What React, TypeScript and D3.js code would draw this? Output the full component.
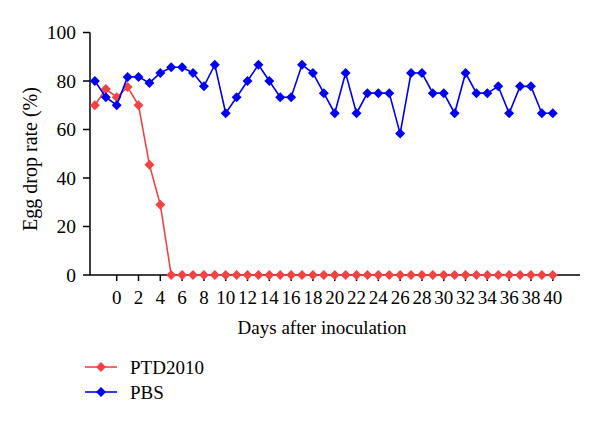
import React from "react";
import * as d3 from "d3";

const days = [-2, -1, 0, 1, 2, 3, 4, 5, 6, 7, 8, 9, 10, 11, 12, 13, 14, 15, 16, 17, 18, 19, 20, 21, 22, 23, 24, 25, 26, 27, 28, 29, 30, 31, 32, 33, 34, 35, 36, 37, 38, 39, 40];
const ptd2010 = [70, 76.7, 73.3, 77.5, 70, 45.5, 29, 0, 0, 0, 0, 0, 0, 0, 0, 0, 0, 0, 0, 0, 0, 0, 0, 0, 0, 0, 0, 0, 0, 0, 0, 0, 0, 0, 0, 0, 0, 0, 0, 0, 0, 0, 0];
const pbs = [80, 73.3, 70, 81.7, 81.7, 79.2, 83.3, 85.7, 85.7, 83.3, 77.8, 86.7, 66.7, 73.3, 80, 86.7, 80, 73.3, 73.3, 86.7, 83.3, 75, 66.7, 83.3, 66.7, 75, 75, 75, 58.3, 83.3, 83.3, 75, 75, 66.7, 83.3, 75, 75, 77.8, 66.7, 77.8, 77.8, 66.7, 66.7];
const xTicks = [0, 2, 4, 6, 8, 10, 12, 14, 16, 18, 20, 22, 24, 26, 28, 30, 32, 34, 36, 38, 40];
const yTicks = [0, 20, 40, 60, 80, 100];

const series = [
  { name: "PTD2010", values: ptd2010, color: "#f04444" },
  { name: "PBS", values: pbs, color: "#0000f0" },
];

const FONT = "'Liberation Serif', 'Times New Roman', serif";

function diamond(cx: number, cy: number, r: number) {
  return `M${cx},${cy - r}L${cx + r},${cy}L${cx},${cy + r}L${cx - r},${cy}Z`;
}

export default function App() {
  const W = 600, H = 424;
  const x = d3.scaleLinear().domain([-2.45, 42.5]).range([90, 580]);
  const y = d3.scaleLinear().domain([0, 100]).range([275, 32.5]);
  const line = d3
    .line<[number, number]>()
    .x((d) => x(d[0]))
    .y((d) => y(d[1]));

  return (
    <svg
      width={W}
      height={H}
      style={{ position: "absolute", left: 0, top: 0, background: "#fff" }}
      fontFamily={FONT}
    >
      {/* axes */}
      <line x1={x.range()[0]} x2={x.range()[0]} y1={y(0)} y2={y(100)} stroke="#000" strokeWidth={1.5} />
      <line x1={x.range()[0]} x2={x.range()[1]} y1={y(0)} y2={y(0)} stroke="#000" strokeWidth={1.5} />
      {yTicks.map((t) => (
        <g key={"y" + t}>
          <line x1={x.range()[0] - 7} x2={x.range()[0]} y1={y(t)} y2={y(t)} stroke="#000" strokeWidth={1.5} />
          <text x={x.range()[0] - 14} y={y(t)} dy="0.35em" textAnchor="end" fontSize={19.5}>
            {t}
          </text>
        </g>
      ))}
      {xTicks.map((t) => (
        <g key={"x" + t}>
          <line x1={x(t)} x2={x(t)} y1={y(0)} y2={y(0) + 6} stroke="#000" strokeWidth={1.5} />
          <text x={x(t)} y={y(0) + 29} textAnchor="middle" fontSize={19}>
            {t}
          </text>
        </g>
      ))}
      <text x={322} y={334} textAnchor="middle" fontSize={19}>
        Days after inoculation
      </text>
      <text transform={`translate(37,159) rotate(-90)`} textAnchor="middle" fontSize={20}>
        Egg drop rate (%)
      </text>

      {series.map((s) => {
        const pts: [number, number][] = days.map((d, i) => [d, s.values[i]]);
        return (
          <g key={s.name}>
            <path d={line(pts) || ""} fill="none" stroke={s.color} strokeWidth={1.6} />
            {pts.map((p, i) => (
              <path key={i} d={diamond(x(p[0]), y(p[1]), 5)} fill={s.color} />
            ))}
          </g>
        );
      })}

      {/* legend */}
      {series.map((s, i) => {
        const ly = 367 + i * 25;
        return (
          <g key={"lg" + s.name}>
            <line x1={85} x2={117} y1={ly} y2={ly} stroke={s.color} strokeWidth={1.6} />
            <path d={diamond(101, ly, 5)} fill={s.color} />
            <text x={130} y={ly} dy="0.35em" fontSize={19}>
              {s.name}
            </text>
          </g>
        );
      })}
    </svg>
  );
}
